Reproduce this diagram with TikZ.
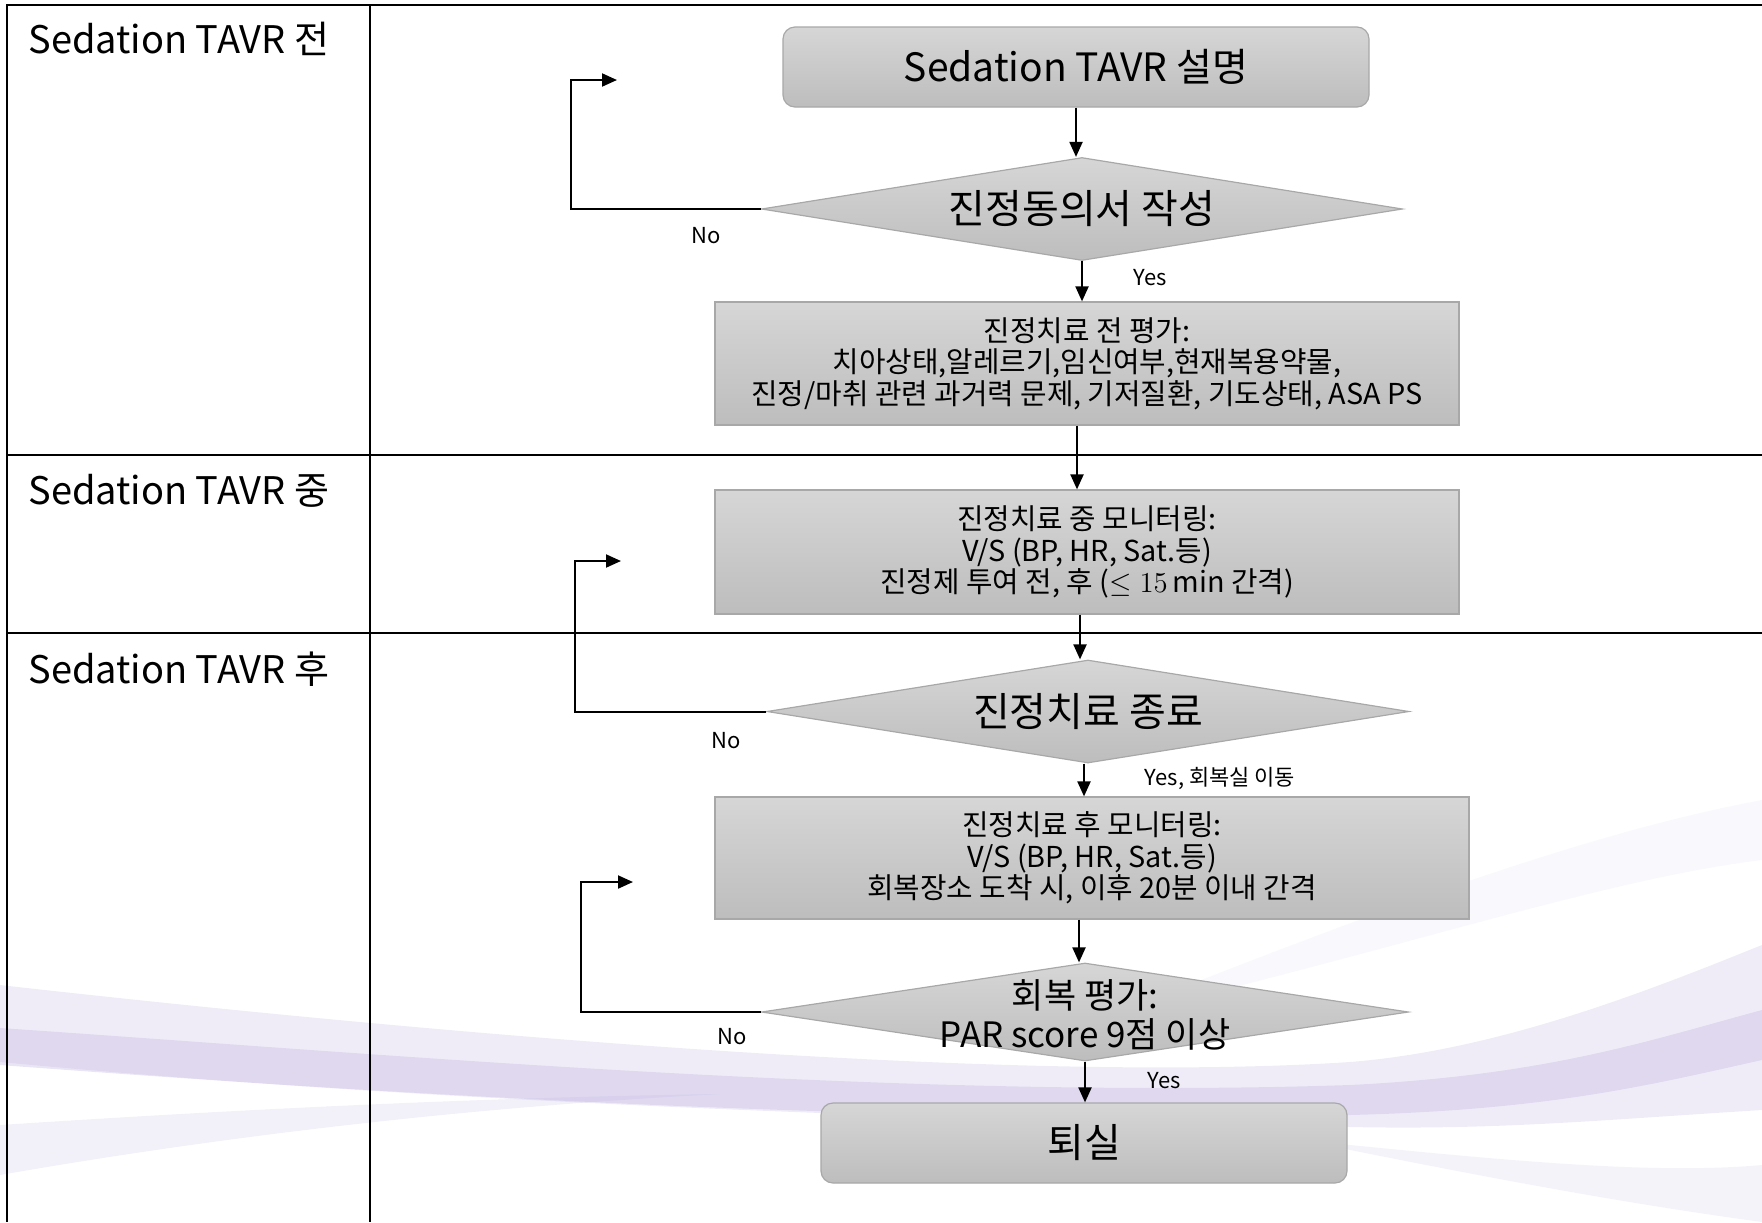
\documentclass[tikz,border=0pt]{standalone}
\usepackage{fontspec}
\setmainfont{Noto Sans CJK KR}
\usetikzlibrary{shapes.geometric,arrows.meta}
\definecolor{boxtop}{HTML}{D6D6D6}
\definecolor{boxbot}{HTML}{BDBDBD}
\definecolor{boxline}{HTML}{A8A8A8}
\definecolor{swoosh}{HTML}{B8AADC}
\tikzset{
  tablerule/.style={line width=1.25pt, black},
  gbox/.style={rectangle, draw=boxline, line width=0.6pt, top color=boxtop, bottom color=boxbot, align=center, inner sep=0pt},
  rbox/.style={gbox, rounded corners=6pt},
  gdia/.style={diamond, draw=boxline, line width=0.6pt, top color=boxtop, bottom color=boxbot, inner sep=0pt},
  boxtext/.style={font=\fontsize{14.4}{15.75}\selectfont, align=center},
  bigtext/.style={font=\fontsize{20}{22}\selectfont, align=center},
  lanetext/.style={font=\fontsize{19}{23}\selectfont, anchor=west, inner sep=0pt},
  lbl/.style={font=\fontsize{11}{13}\selectfont, inner sep=0pt},
  arr/.style={line width=1pt, -{Triangle[length=7.5pt,width=6.5pt]}},
}
\begin{document}
\begin{tikzpicture}[x=0.5pt,y=-0.5pt]
\useasboundingbox (0,0) rectangle (1762,1222);
% background swooshes
\fill[swoosh, opacity=0.22] (0,985) .. controls (400,1030) and (1000,1085) .. (1350,1062)
  .. controls (1500,1050) and (1650,990) .. (1762,945)
  -- (1762,1110) .. controls (1600,1120) and (1500,1130) .. (1350,1127)
  .. controls (900,1120) and (400,1100) .. (0,1062) -- cycle;
\fill[swoosh, opacity=0.30] (0,1028) .. controls (400,1055) and (900,1100) .. (1350,1085)
  .. controls (1550,1075) and (1650,1040) .. (1762,1010)
  -- (1762,1060) .. controls (1650,1085) and (1550,1110) .. (1350,1115)
  .. controls (900,1125) and (400,1095) .. (0,1065) -- cycle;
\fill[swoosh, opacity=0.18] (0,1125) .. controls (200,1112) and (450,1098) .. (720,1094)
  .. controls (450,1108) and (200,1140) .. (0,1175) -- cycle;
\fill[swoosh, opacity=0.14] (1300,1140) .. controls (1500,1160) and (1650,1175) .. (1762,1165)
  -- (1762,1222) .. controls (1600,1200) and (1450,1170) .. (1300,1140) -- cycle;
\fill[swoosh, opacity=0.08] (1100,1020) .. controls (1400,900) and (1600,830) .. (1762,800)
  -- (1762,860) .. controls (1600,880) and (1400,950) .. (1100,1020) -- cycle;
% table
\draw[tablerule] (1762,5) -- (7,5) -- (7,1222);
\draw[tablerule] (370,5) -- (370,1222);
\draw[tablerule] (7,455) -- (1762,455);
\draw[tablerule] (7,633) -- (1762,633);
\node[lanetext] (lane1) at (28,39) {Sedation TAVR 전};
\node[lanetext] (lane2) at (28,491) {Sedation TAVR 중};
\node[lanetext] (lane3) at (28,669) {Sedation TAVR 후};
% shapes
\node[rbox, minimum width=293pt, minimum height=40pt, font=\fontsize{19.5}{23}\selectfont] (r1) at (1076,67) {Sedation TAVR 설명};
\node[gdia, minimum width=320.5pt, minimum height=51.5pt] (d1) at (1082,209) {};
\node[bigtext] (d1t) at (d1) {진정동의서 작성};
\node[gbox, minimum width=372pt, minimum height=61.5pt] (r2) at (1087,363.5) {};
\node[boxtext] (r2t) at (r2) {진정치료 전 평가:\\치아상태,알레르기,임신여부,현재복용약물,\\진정/마취 관련 과거력 문제, 기저질환, 기도상태, ASA PS};
\node[gbox, minimum width=372pt, minimum height=62pt] (r3) at (1087,552) {};
\node[boxtext] (r3t) at (r3) {진정치료 중 모니터링:\\V/S (BP, HR, Sat.등)\\진정제 투여 전, 후 (\(\leq 15\,\mathrm{min}\) 간격)};
\node[gdia, minimum width=321pt, minimum height=51.5pt] (d2) at (1088,711.5) {};
\node[bigtext] (d2t) at (d2) {진정치료 종료};
\node[gbox, minimum width=377pt, minimum height=61pt] (r4) at (1092,858) {};
\node[boxtext] (r4t) at (r4) {진정치료 후 모니터링:\\V/S (BP, HR, Sat.등)\\회복장소 도착 시, 이후 20분 이내 간격};
\node[gdia, minimum width=323.5pt, minimum height=49pt] (d3) at (1085,1012) {};
\node[font=\fontsize{17.5}{19.5}\selectfont, align=center] (d3t) at (1085,1015) {회복 평가:\\PAR score 9점 이상};
\node[rbox, minimum width=263pt, minimum height=40pt, font=\fontsize{20}{22}\selectfont] (r5) at (1084,1143) {퇴실};
% free ends of the loops
\coordinate (n1) at (617,80);
\coordinate (n2) at (621,561);
\coordinate (n3) at (633,882);
% connectors
\draw[arr] (r1.south) -- (r1.south |- d1.north);
\draw[arr] (d1.south) -- (d1.south |- r2.north);
\draw[arr] ([xshift=-5pt]r2.south) -- ([xshift=-5pt]r2.south |- r3.north);
\draw[arr] ([xshift=-3.5pt]r3.south) -- ([xshift=-3.5pt]r3.south |- d2.north);
\draw[arr] ([xshift=-2pt]d2.south) -- ([xshift=-2pt]d2.south |- r4.north);
\draw[arr] ([xshift=-6.5pt]r4.south) -- ([xshift=-6.5pt]r4.south |- d3.north);
\draw[arr] (d3.south) -- (d3.south |- r5.north);
\draw[arr] (d1.west) -- ++(-190,0) |- (n1);
\draw[arr] (d2.west) -- ++(-191,0) |- (n2);
\draw[arr] (d3.west) -- ++(-180,0) |- (n3);
% labels
\node[lbl] (no1) at (706,236) {No};
\node[lbl] (no2) at (726,741) {No};
\node[lbl] (no3) at (732,1037) {No};
\node[lbl] (yes1) at (1150,278) {Yes};
\node[lbl] (yes2) at (1220,778) {Yes, 회복실 이동};
\node[lbl] (yes3) at (1164,1081) {Yes};
\end{tikzpicture}
\end{document}
